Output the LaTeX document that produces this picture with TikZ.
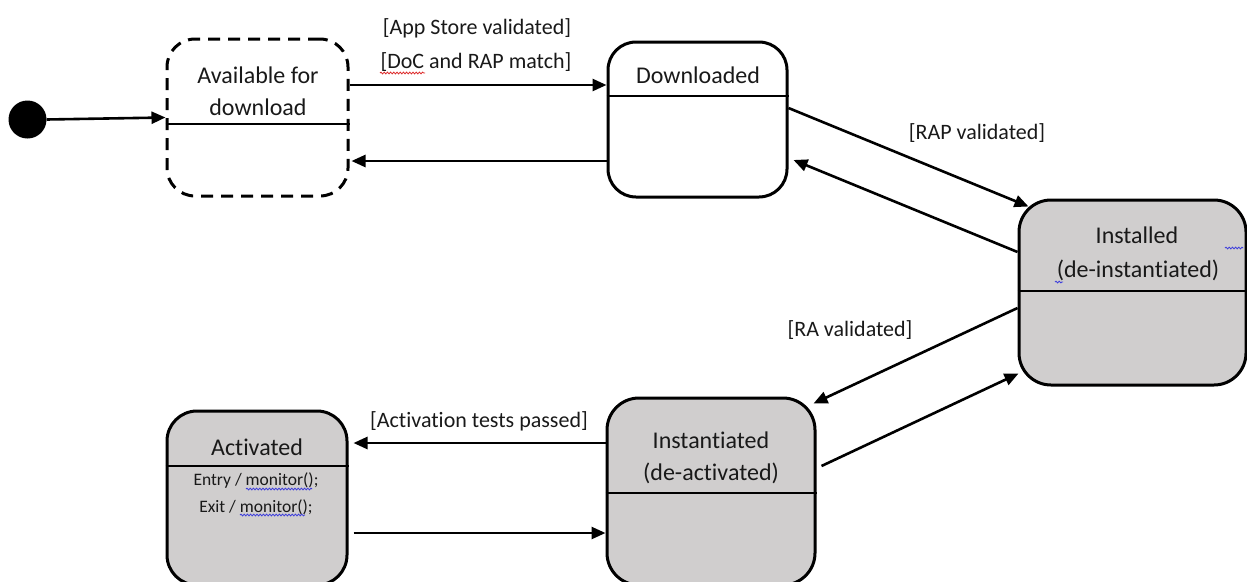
\documentclass[tikz,border=0pt]{standalone}
\usepackage{fontspec}
\setmainfont{Carlito}[Ligatures=NoCommon]
\usetikzlibrary{arrows.meta,calc,decorations.pathmorphing}
\definecolor{stategray}{RGB}{208,206,206}
\definecolor{ink}{RGB}{25,25,25}
\definecolor{spellred}{RGB}{220,40,40}
\definecolor{spellblue}{RGB}{60,60,220}

\begin{document}
\begin{tikzpicture}[x=1pt,y=-1pt,
  state/.style={draw=black, line width=3pt, rounded corners=28pt, inner sep=0pt},
  shaded/.style={state, fill=stategray},
  divider/.style={line width=2.6pt},
  title/.style={anchor=base, text=ink, inner sep=0pt, font=\fontsize{24}{28}\selectfont},
  guard/.style={anchor=base, text=ink, inner sep=0pt, font=\fontsize{22}{26}\selectfont},
  action/.style={anchor=base, text=ink, inner sep=0pt, font=\fontsize{17.5}{20}\selectfont},
  trans/.style={line width=2.6pt, -{Triangle[length=14pt,width=12pt]}},
  squiggle/.style={decorate, decoration={snake, amplitude=0.9pt, segment length=3.2pt}, line width=0.8pt}
]
\clip (0,0) rectangle (1247,581);

% initial pseudo-state
\node[circle, fill=black, minimum size=38pt, inner sep=0pt] (init) at (27.5,119.5) {};

% states
\node[state, dash pattern=on 12pt off 8pt, minimum width=181pt, minimum height=157pt] (avail) at (257.5,117.5) {};
\node[state, minimum width=179pt, minimum height=155pt] (down) at (697.5,119.5) {};
\node[shaded, rounded corners=32pt, minimum width=227pt, minimum height=185pt] (inst) at (1132.5,292.5) {};
\node[shaded, rounded corners=32pt, minimum width=208pt, minimum height=187pt] (inst2) at (711,491.5) {};
\node[shaded, rounded corners=30pt, minimum width=180pt, minimum height=174pt] (act) at (257,498) {};

% compartment dividers
\draw[divider] (avail.west |- 0,124) -- (avail.east |- 0,124);
\draw[divider] (down.west |- 0,96) -- (down.east |- 0,96);
\draw[divider] (inst.west |- 0,291) -- (inst.east |- 0,291);
\draw[divider] (inst2.west |- 0,493) -- (inst2.east |- 0,493);
\draw[divider] (act.west |- 0,466) -- (act.east |- 0,466);

% state names
\node[title] (availA) at (258,83) {Available for};
\node[title] (availB) at (258,115) {download};
\node[title] (downT) at (698,83) {Downloaded};
\node[title] (instA) at (1137,243) {Installed};
\node[title] (instB) at (1138,277) {(de-instantiated)};
\node[title] (inst2A) at (711,448) {Instantiated};
\node[title] (inst2B) at (711,480) {(de-activated)};
\node[title] (actT) at (257,455) {Activated};
\node[action] (entry) at (256,485) {Entry / monitor();};
\node[action] (exit) at (256,512) {Exit / monitor();};

% guards
\node[guard] (g1) at (477,34) {[App Store validated]};
\node[guard] (g2) at (476,68) {[DoC and RAP match]};
\node[guard] (g3) at (977,139) {[RAP validated]};
\node[guard] (g4) at (850,336) {[RA validated]};
\node[guard] (g5) at (479,427) {[Activation tests passed]};

% spell-check marks
\draw[squiggle, spellred] (380,73) -- (425,73);
\draw[squiggle, spellblue] (246,489) -- (312,489);
\draw[squiggle, spellblue] (240,515) -- (305,515);
\draw[squiggle, spellblue] (1055,282) -- (1063,282);
\draw[squiggle, spellblue] (1225,248) -- (1243,248);

% transitions
\draw[trans] (init.east) -- (avail.west);
\draw[trans] ($(avail.east)+(0,-32.5)$) -- ($(down.west)+(0,-34.5)$);
\draw[trans] ($(down.west)+(0,41.5)$) -- ($(avail.east)+(2,43.5)$);
\draw[trans] ($(down.east)+(0,-11.5)$) -- ($(inst.north west)+(11,8)$);
\draw[trans] ($(inst.west)+(0,-40.5)$) -- ($(down.east)+(5,40.5)$);
\draw[trans] ($(inst.west)+(0,15.5)$) -- ($(inst2.north east)+(-3,7)$);
\draw[trans] ($(inst2.east)+(5,-25.5)$) -- ($(inst.south west)+(1,-13)$);
\draw[trans] ($(inst2.west)+(0,-48.5)$) -- ($(act.east)+(5,-55)$);
\draw[trans] ($(act.east)+(5,35)$) -- ($(inst2.west)+(0,41.5)$);
\end{tikzpicture}
\end{document}
